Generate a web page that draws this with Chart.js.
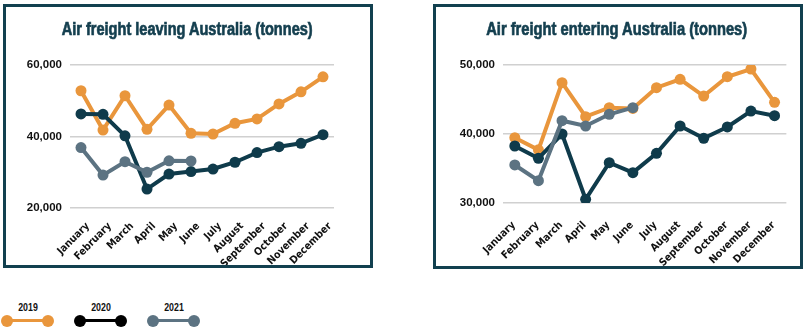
<!DOCTYPE html>
<html><head><meta charset="utf-8">
<script src="https://cdn.jsdelivr.net/npm/chart.js@4"></script>
<style>
html,body{margin:0;padding:0;background:#fff;width:807px;height:327px;overflow:hidden;position:relative;}
.panel{position:absolute;border:3px solid #12404f;box-sizing:border-box;background:#fff;}
#p1{left:3px;top:4px;width:370px;height:264px;}
#p2{left:433px;top:4px;width:370px;height:265px;}
.wrap{position:relative;}
#p1 .wrap{width:364px;height:258px;}
#p2 .wrap{width:364px;height:259px;}
.title{position:absolute;top:20px;white-space:nowrap;font:bold 18px/18px "Liberation Sans",Arial,sans-serif;color:#143f4f;transform-origin:center top;-webkit-text-stroke:0.7px #143f4f;}
.leg{position:absolute;height:20px;}
.leg .lab{position:absolute;top:0;width:60px;text-align:center;font:bold 11px/12px "Liberation Sans",Arial,sans-serif;color:#111;transform:scaleX(0.8);}
.leg .ln{position:absolute;height:3px;}
.leg .dot{position:absolute;width:12px;height:12px;border-radius:50%;}
</style></head>
<body>
<div class="panel" id="p1"><div class="wrap"><canvas id="c1"></canvas></div></div>
<div class="panel" id="p2"><div class="wrap"><canvas id="c2"></canvas></div></div>
<div class="title" id="t1"></div>
<div class="title" id="t2"></div>
<div id="legend"></div>
<script>
const months = ['January','February','March','April','May','June','July','August','September','October','November','December'];
const seriesNames = ['2019','2020','2021'];
const titles = ['Air freight leaving Australia (tonnes)', 'Air freight entering Australia (tonnes)'];
const leaving2019 = [52800, 41800, 51400, 42000, 48800, 40900, 40700, 43700, 44900, 49100, 52500, 56700];
const leaving2020 = [46300, 46200, 40200, 25300, 29500, 30200, 30900, 32800, 35500, 37150, 38100, 40500];
const leaving2021 = [36900, 29200, 32950, 30000, 33200, 33150];
const entering2019 = [39470, 37700, 47440, 42510, 43820, 43700, 46710, 47920, 45500, 48300, 49420, 44590];
const entering2020 = [38260, 36480, 40000, 30540, 35840, 34400, 37200, 41160, 39380, 41020, 43330, 42650];
const entering2021 = [35510, 33240, 41930, 41160, 42860, 43820];
const leavingTicks = [20000, 40000, 60000];
const enteringTicks = [30000, 40000, 50000];

const colors = ['#e9963c', '#0f3b4b', '#5c7382'];
const legendColors = ['#e9963c', '#000000', '#5c7382'];
const narrow = '"DejaVu Sans Condensed","DejaVu Sans",sans-serif';
const wide = '"Liberation Sans",Arial,sans-serif';

function ds(label, data, i){
  return {label, data, borderColor: colors[i], backgroundColor: colors[i],
    pointBackgroundColor: colors[i], pointBorderWidth: 0, pointRadius: 5.5, pointHoverRadius: 5.5,
    borderWidth: 4, tension: 0, order: 3 - i};
}

function make(id, sets, ticks, yW, xH, padR, xPad, xOff){
  new Chart(document.getElementById(id), {
    type: 'line',
    data: {labels: months, datasets: sets.map((d,i)=>ds(seriesNames[i], d, i))},
    options: {
      responsive: true, maintainAspectRatio: false, animation: false,
      layout: {padding: {left: 0, right: padR, top: 58, bottom: 0}},
      plugins: {legend: {display: false}, tooltip: {enabled: false}, title: {display: false}},
      scales: {
        x: {offset: true, grid: {display: false, drawTicks: false}, border: {display: false},
          afterFit: s => { s.height = xH; },
          ticks: {autoSkip: false, minRotation: 45, maxRotation: 45, padding: xPad, labelOffset: xOff, color: '#111',
            font: {family: narrow, size: 10.5, weight: 'bold'}}},
        y: {min: ticks[0], max: ticks[ticks.length-1],
          afterFit: s => { s.width = yW; },
          afterBuildTicks: s => { s.ticks = ticks.map(v=>({value:v})); },
          grid: {color: '#d0d0d0', lineWidth: 1.5, drawTicks: false}, border: {display: false},
          ticks: {padding: 8, color: '#111', font: {family: wide, size: 11.5, weight: 'bold'},
            callback: v => v.toLocaleString('en-US')}}
      }
    }
  });
}

make('c1', [leaving2019, leaving2020, leaving2021], leavingTicks, 64, 57, 36, 12, 7);
make('c2', [entering2019, entering2020, entering2021], enteringTicks, 67, 63, 13, 16, -1);

// titles (HTML text, squeezed to the condensed width of the original)
[['t1', 187, 251], ['t2', 617, 261]].forEach(([id, cx, w], i) => {
  const t = document.getElementById(id);
  t.textContent = titles[i];
  const nat = t.getBoundingClientRect().width;
  t.style.left = (cx - nat/2) + 'px';
  t.style.transform = `scaleX(${w/nat})`;
});

// legend
const legPos = [7, 80, 153];
const leg = document.getElementById('legend');
seriesNames.forEach((n,i)=>{
  const d = document.createElement('div');
  d.className = 'leg';
  d.style.left = (legPos[i]-6) + 'px';
  d.style.top = '301px';
  d.style.width = '54px';
  const c = legendColors[i];
  d.innerHTML = `<div class="lab" style="left:-3px">${n}</div>
    <div class="ln" style="left:6px;width:41px;top:18px;background:${c}"></div>
    <div class="dot" style="left:0;top:13.5px;background:${c}"></div>
    <div class="dot" style="left:41px;top:13.5px;background:${c}"></div>`;
  leg.appendChild(d);
});
</script>
</body></html>
